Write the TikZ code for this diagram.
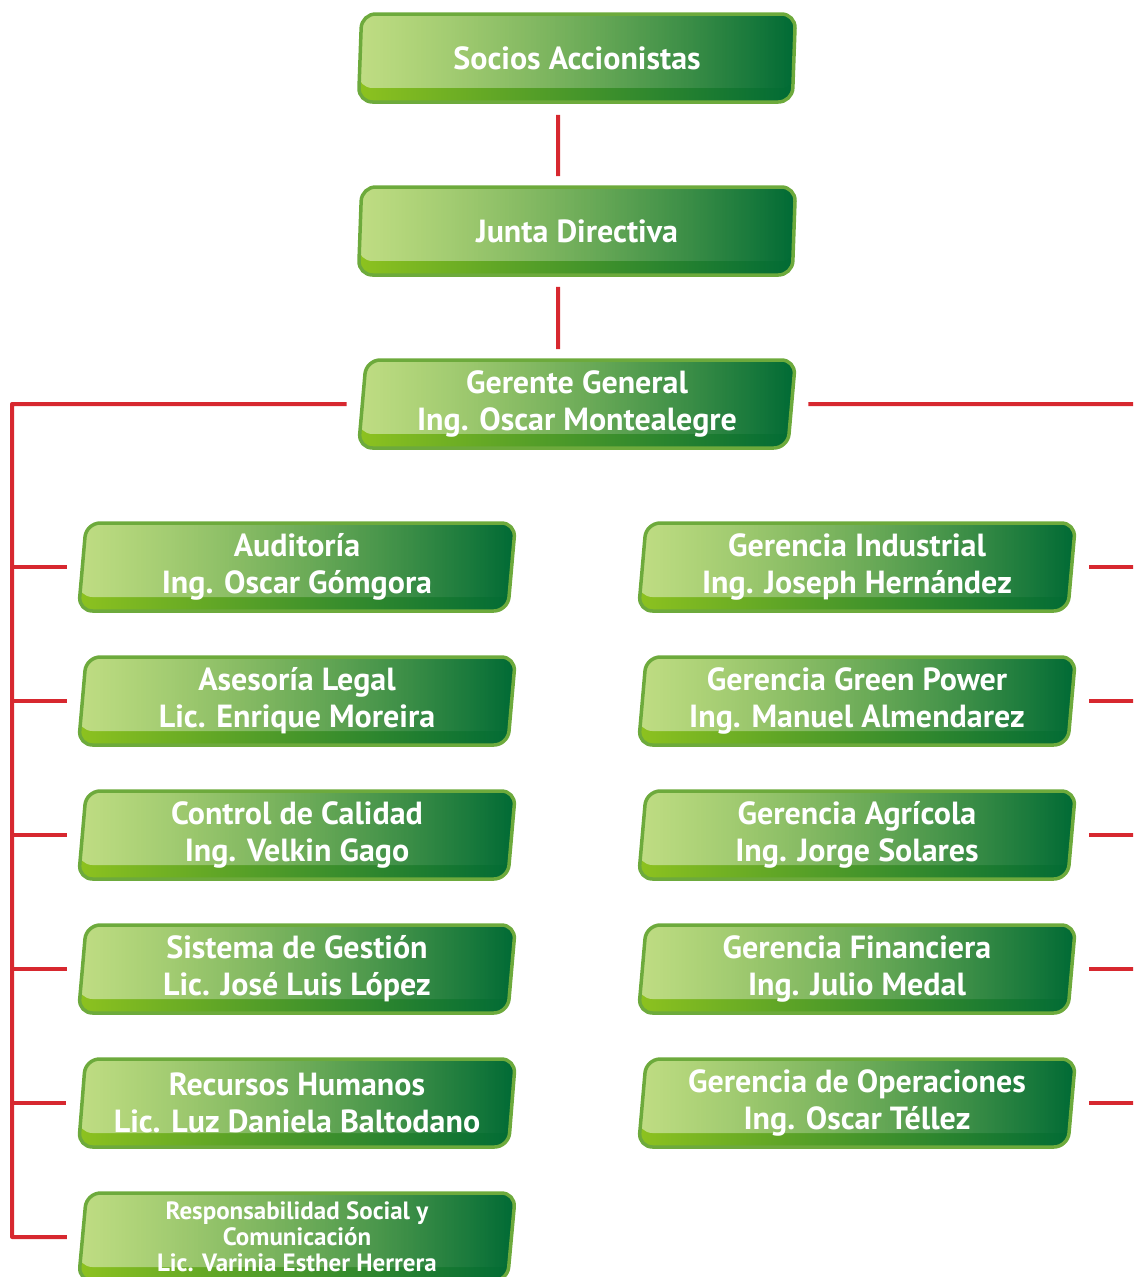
\documentclass[tikz,border=0pt]{standalone}
\usepackage{fontspec}
\setmainfont{PT Sans}
\usetikzlibrary{positioning,shapes.geometric,fadings}

\definecolor{linkred}{HTML}{D7282F}
\definecolor{boxlight}{HTML}{8DC21F}
\definecolor{boxdark}{HTML}{006A35}
\definecolor{boxrim}{HTML}{6DAA3C}

\tikzset{gloss/.style={path picture={\fill[white, opacity=0.45, path fading=east] (path picture bounding box.north west) rectangle ([yshift=14pt]path picture bounding box.south east);}}}

\begin{document}
\begin{tikzpicture}[x=1pt, y=-1pt, node distance={134pt},
  box/.style = {trapezium, trapezium left angle=84, trapezium right angle=96, trapezium stretches body, minimum width=437pt, minimum height=88pt, rounded corners=14pt, draw=boxrim, line width=3.5pt, left color=boxlight, right color=boxdark, text=white, align=center, font=\fontsize{32}{37}\selectfont\bfseries, gloss},
  link/.style = {draw=linkred, line width=4pt, line join=round}]
\useasboundingbox (0,0) rectangle (1133,1277);
\clip (0,0) rectangle (1133,1277);

\node[box] (soc) at (577,58) {Socios Accionistas};
\node[box] (junta) at (577,231) {Junta Directiva};
\node[box] (ger) at (577,404) {Gerente General\\Ing. Oscar Montealegre};

% left column
\node[box] (aud) at (297,567) {Auditoría\\Ing. Oscar Gómgora};
\node[box] (leg) [below of=aud] {Asesoría Legal\\Lic. Enrique Moreira};
\node[box] (cal) [below of=leg] {Control de Calidad\\Ing. Velkin Gago};
\node[box] (ges) [below of=cal] {Sistema de Gestión\\Lic. José Luis López};
\node[box] (rrhh) [below of=ges] {Recursos Humanos\\Lic. Luz Daniela Baltodano};
\node[box, font=\fontsize{25}{26}\selectfont\bfseries] (rse) [below of=rrhh] {Responsabilidad Social y\\Comunicación\\Lic. Varinia Esther Herrera};

% right column
\node[box] (gind) at (857,567) {Gerencia Industrial\\Ing. Joseph Hernández};
\node[box] (ggp) [below of=gind] {Gerencia Green Power\\Ing. Manuel Almendarez};
\node[box] (gagr) [below of=ggp] {Gerencia Agrícola\\Ing. Jorge Solares};
\node[box] (gfin) [below of=gagr] {Gerencia Financiera\\Ing. Julio Medal};
\node[box] (gop) [below of=gfin] {Gerencia de Operaciones\\Ing. Oscar Téllez};

\coordinate (tl) at (12,404);
\coordinate (tr) at (1140,404);

\draw[link, shorten <=11pt, shorten >=9pt] ([xshift=-19pt]soc.south) -- ([xshift=-19pt]junta.north);
\draw[link, shorten <=10pt, shorten >=9pt] ([xshift=-19pt]junta.south) -- ([xshift=-19pt]ger.north);

\draw[link] ([xshift=-14pt]ger.west) -- (tl) |- ([xshift=-14pt]rse.west);
\foreach \n in {aud,leg,cal,ges,rrhh}
  \draw[link] (tl |- \n.west) -- ([xshift=-14pt]\n.west);

\draw[link] ([xshift=15pt]ger.east) -- (tr);
\foreach \n in {gind,ggp,gagr,gfin,gop}
  \draw[link] ([xshift=16pt]\n.east) -- (tr |- \n.east);
\end{tikzpicture}
\end{document}
